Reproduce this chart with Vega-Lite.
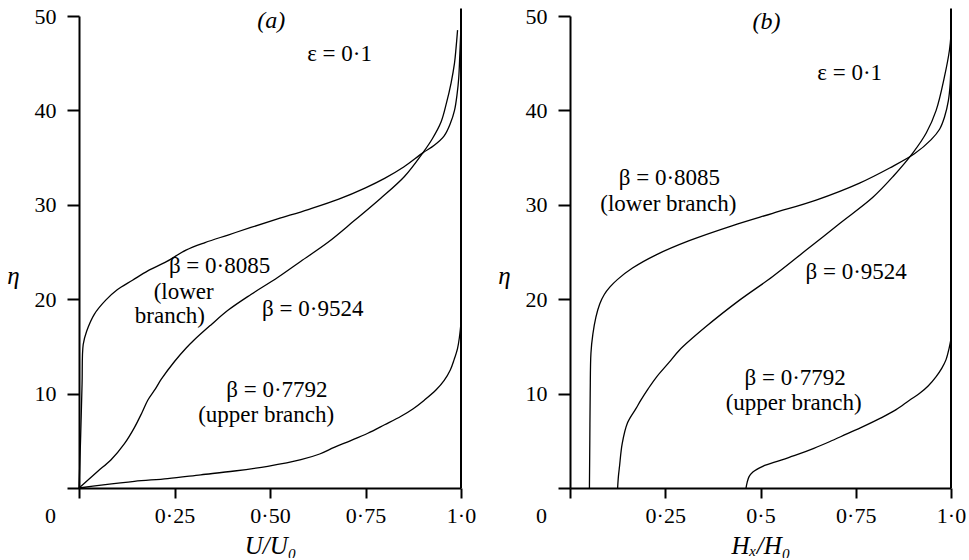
{
  "$schema": "https://vega.github.io/schema/vega-lite/v6.json",
  "background": "white",
  "padding": {"left": 6, "top": 5, "right": 0, "bottom": 0},
  "spacing": 21,
  "config": {
    "view": {"stroke": null},
    "font": "Liberation Serif",
    "axis": {
      "grid": false,
      "domainColor": "black",
      "domainWidth": 2,
      "tickColor": "black",
      "tickWidth": 2,
      "labelColor": "black",
      "titleColor": "black",
      "labelFont": "Liberation Serif",
      "titleFont": "Liberation Serif",
      "labelFontSize": 22,
      "titleFontSize": 25,
      "titleFontWeight": "normal",
      "titleFontStyle": "italic",
      "labelFlush": false,
      "labelOverlap": false,
      "labelBound": false
    }
  },
  "datasets": {
    "curvesA": [
      {"beta": "0.8085", "x": 0, "y": 0}, {"beta": "0.8085", "x": 0.004, "y": 5}, {"beta": "0.8085", "x": 0.008, "y": 11}, {"beta": "0.8085", "x": 0.011, "y": 15.2}, {"beta": "0.8085", "x": 0.02, "y": 16.6}, {"beta": "0.8085", "x": 0.04, "y": 18.4}, {"beta": "0.8085", "x": 0.07, "y": 19.9}, {"beta": "0.8085", "x": 0.1, "y": 21.0}, {"beta": "0.8085", "x": 0.14, "y": 22.0}, {"beta": "0.8085", "x": 0.18, "y": 23.0}, {"beta": "0.8085", "x": 0.23, "y": 24.0}, {"beta": "0.8085", "x": 0.28, "y": 25.2}, {"beta": "0.8085", "x": 0.33, "y": 26.0}, {"beta": "0.8085", "x": 0.39, "y": 26.8}, {"beta": "0.8085", "x": 0.45, "y": 27.6}, {"beta": "0.8085", "x": 0.52, "y": 28.5}, {"beta": "0.8085", "x": 0.6, "y": 29.5}, {"beta": "0.8085", "x": 0.68, "y": 30.6}, {"beta": "0.8085", "x": 0.75, "y": 31.8}, {"beta": "0.8085", "x": 0.8, "y": 32.8}, {"beta": "0.8085", "x": 0.85, "y": 34.0}, {"beta": "0.8085", "x": 0.9, "y": 35.5}, {"beta": "0.8085", "x": 0.93, "y": 36.3}, {"beta": "0.8085", "x": 0.956, "y": 37.3}, {"beta": "0.8085", "x": 0.972, "y": 38.6}, {"beta": "0.8085", "x": 0.983, "y": 40.0}, {"beta": "0.8085", "x": 0.99, "y": 41.8}, {"beta": "0.8085", "x": 0.994, "y": 43.4}, {"beta": "0.8085", "x": 0.997, "y": 46}, {"beta": "0.8085", "x": 1.0, "y": 49},
      {"beta": "0.9524", "x": 0, "y": 0}, {"beta": "0.9524", "x": 0.025, "y": 0.9}, {"beta": "0.9524", "x": 0.05, "y": 1.8}, {"beta": "0.9524", "x": 0.084, "y": 3.0}, {"beta": "0.9524", "x": 0.119, "y": 4.7}, {"beta": "0.9524", "x": 0.145, "y": 6.4}, {"beta": "0.9524", "x": 0.165, "y": 8.0}, {"beta": "0.9524", "x": 0.18, "y": 9.3}, {"beta": "0.9524", "x": 0.2, "y": 10.5}, {"beta": "0.9524", "x": 0.215, "y": 11.5}, {"beta": "0.9524", "x": 0.25, "y": 13.4}, {"beta": "0.9524", "x": 0.28, "y": 14.8}, {"beta": "0.9524", "x": 0.302, "y": 15.7}, {"beta": "0.9524", "x": 0.346, "y": 17.3}, {"beta": "0.9524", "x": 0.389, "y": 18.8}, {"beta": "0.9524", "x": 0.45, "y": 20.5}, {"beta": "0.9524", "x": 0.52, "y": 22.3}, {"beta": "0.9524", "x": 0.58, "y": 24.0}, {"beta": "0.9524", "x": 0.651, "y": 26.0}, {"beta": "0.9524", "x": 0.72, "y": 28.3}, {"beta": "0.9524", "x": 0.79, "y": 30.7}, {"beta": "0.9524", "x": 0.852, "y": 33.0}, {"beta": "0.9524", "x": 0.9, "y": 35.5}, {"beta": "0.9524", "x": 0.925, "y": 37.0}, {"beta": "0.9524", "x": 0.948, "y": 38.8}, {"beta": "0.9524", "x": 0.962, "y": 40.8}, {"beta": "0.9524", "x": 0.974, "y": 42.9}, {"beta": "0.9524", "x": 0.983, "y": 45.0}, {"beta": "0.9524", "x": 0.987, "y": 46.6}, {"beta": "0.9524", "x": 0.991, "y": 48.5},
      {"beta": "0.7792", "x": 0, "y": 0}, {"beta": "0.7792", "x": 0.058, "y": 0.3}, {"beta": "0.7792", "x": 0.145, "y": 0.7}, {"beta": "0.7792", "x": 0.232, "y": 1.0}, {"beta": "0.7792", "x": 0.319, "y": 1.4}, {"beta": "0.7792", "x": 0.407, "y": 1.8}, {"beta": "0.7792", "x": 0.494, "y": 2.3}, {"beta": "0.7792", "x": 0.581, "y": 3.0}, {"beta": "0.7792", "x": 0.63, "y": 3.6}, {"beta": "0.7792", "x": 0.668, "y": 4.3}, {"beta": "0.7792", "x": 0.71, "y": 5.0}, {"beta": "0.7792", "x": 0.756, "y": 5.8}, {"beta": "0.7792", "x": 0.8, "y": 6.7}, {"beta": "0.7792", "x": 0.843, "y": 7.6}, {"beta": "0.7792", "x": 0.875, "y": 8.4}, {"beta": "0.7792", "x": 0.904, "y": 9.3}, {"beta": "0.7792", "x": 0.935, "y": 10.4}, {"beta": "0.7792", "x": 0.956, "y": 11.4}, {"beta": "0.7792", "x": 0.972, "y": 12.5}, {"beta": "0.7792", "x": 0.982, "y": 13.6}, {"beta": "0.7792", "x": 0.991, "y": 14.8}, {"beta": "0.7792", "x": 0.996, "y": 16.0}, {"beta": "0.7792", "x": 1.0, "y": 17.5}
    ],
    "curvesB": [
      {"beta": "0.8085", "x": 0.051, "y": 0}, {"beta": "0.8085", "x": 0.052, "y": 5}, {"beta": "0.8085", "x": 0.053, "y": 10}, {"beta": "0.8085", "x": 0.055, "y": 14.3}, {"beta": "0.8085", "x": 0.06, "y": 16.3}, {"beta": "0.8085", "x": 0.068, "y": 18.1}, {"beta": "0.8085", "x": 0.078, "y": 19.5}, {"beta": "0.8085", "x": 0.09, "y": 20.5}, {"beta": "0.8085", "x": 0.105, "y": 21.3}, {"beta": "0.8085", "x": 0.125, "y": 22.1}, {"beta": "0.8085", "x": 0.164, "y": 23.3}, {"beta": "0.8085", "x": 0.226, "y": 24.7}, {"beta": "0.8085", "x": 0.313, "y": 26.2}, {"beta": "0.8085", "x": 0.427, "y": 27.8}, {"beta": "0.8085", "x": 0.532, "y": 29.1}, {"beta": "0.8085", "x": 0.646, "y": 30.5}, {"beta": "0.8085", "x": 0.76, "y": 32.3}, {"beta": "0.8085", "x": 0.839, "y": 33.9}, {"beta": "0.8085", "x": 0.904, "y": 35.4}, {"beta": "0.8085", "x": 0.948, "y": 36.9}, {"beta": "0.8085", "x": 0.97, "y": 38.0}, {"beta": "0.8085", "x": 0.983, "y": 39.3}, {"beta": "0.8085", "x": 0.993, "y": 41.0}, {"beta": "0.8085", "x": 0.998, "y": 42.9}, {"beta": "0.8085", "x": 1.0, "y": 45.5}, {"beta": "0.8085", "x": 1.0, "y": 48},
      {"beta": "0.9524", "x": 0.125, "y": 0}, {"beta": "0.9524", "x": 0.127, "y": 1.2}, {"beta": "0.9524", "x": 0.13, "y": 2.3}, {"beta": "0.9524", "x": 0.137, "y": 4.7}, {"beta": "0.9524", "x": 0.151, "y": 6.9}, {"beta": "0.9524", "x": 0.173, "y": 8.4}, {"beta": "0.9524", "x": 0.186, "y": 9.3}, {"beta": "0.9524", "x": 0.205, "y": 10.5}, {"beta": "0.9524", "x": 0.226, "y": 11.7}, {"beta": "0.9524", "x": 0.26, "y": 13.3}, {"beta": "0.9524", "x": 0.287, "y": 14.6}, {"beta": "0.9524", "x": 0.357, "y": 17.1}, {"beta": "0.9524", "x": 0.445, "y": 19.9}, {"beta": "0.9524", "x": 0.532, "y": 22.4}, {"beta": "0.9524", "x": 0.62, "y": 25.2}, {"beta": "0.9524", "x": 0.707, "y": 28.0}, {"beta": "0.9524", "x": 0.795, "y": 30.8}, {"beta": "0.9524", "x": 0.848, "y": 33.0}, {"beta": "0.9524", "x": 0.9, "y": 35.5}, {"beta": "0.9524", "x": 0.935, "y": 37.6}, {"beta": "0.9524", "x": 0.961, "y": 40.0}, {"beta": "0.9524", "x": 0.983, "y": 43.6}, {"beta": "0.9524", "x": 0.996, "y": 46.4}, {"beta": "0.9524", "x": 1.0, "y": 48},
      {"beta": "0.7792", "x": 0.462, "y": 0}, {"beta": "0.7792", "x": 0.465, "y": 0.6}, {"beta": "0.7792", "x": 0.47, "y": 1.2}, {"beta": "0.7792", "x": 0.48, "y": 1.7}, {"beta": "0.7792", "x": 0.506, "y": 2.3}, {"beta": "0.7792", "x": 0.55, "y": 2.9}, {"beta": "0.7792", "x": 0.594, "y": 3.5}, {"beta": "0.7792", "x": 0.64, "y": 4.2}, {"beta": "0.7792", "x": 0.681, "y": 4.9}, {"beta": "0.7792", "x": 0.725, "y": 5.7}, {"beta": "0.7792", "x": 0.769, "y": 6.5}, {"beta": "0.7792", "x": 0.815, "y": 7.4}, {"beta": "0.7792", "x": 0.856, "y": 8.3}, {"beta": "0.7792", "x": 0.891, "y": 9.3}, {"beta": "0.7792", "x": 0.917, "y": 10.0}, {"beta": "0.7792", "x": 0.94, "y": 10.8}, {"beta": "0.7792", "x": 0.961, "y": 11.8}, {"beta": "0.7792", "x": 0.976, "y": 12.7}, {"beta": "0.7792", "x": 0.987, "y": 13.6}, {"beta": "0.7792", "x": 0.995, "y": 14.8}, {"beta": "0.7792", "x": 1.0, "y": 15.8}
    ],
    "labelsA": [
      {"t": "(a)", "kind": "panel", "x": 0.503, "y": 49.5},
      {"t": "ε = 0·1", "kind": "param", "x": 0.682, "y": 46.0},
      {"t": "β = 0·8085", "kind": "curve", "x": 0.368, "y": 23.5},
      {"t": "(lower", "kind": "curve", "x": 0.274, "y": 20.8},
      {"t": "branch)", "kind": "curve", "x": 0.238, "y": 18.2},
      {"t": "β = 0·9524", "kind": "curve", "x": 0.612, "y": 19.0},
      {"t": "β = 0·7792", "kind": "curve", "x": 0.518, "y": 10.4},
      {"t": "(upper branch)", "kind": "curve", "x": 0.49, "y": 7.7}
    ],
    "labelsB": [
      {"t": "(b)", "kind": "panel", "x": 0.516, "y": 49.4},
      {"t": "ε = 0·1", "kind": "param", "x": 0.734, "y": 44.0},
      {"t": "β = 0·8085", "kind": "curve", "x": 0.261, "y": 32.8},
      {"t": "(lower branch)", "kind": "curve", "x": 0.258, "y": 30.1},
      {"t": "β = 0·9524", "kind": "curve", "x": 0.751, "y": 22.9},
      {"t": "β = 0·7792", "kind": "curve", "x": 0.591, "y": 11.7},
      {"t": "(upper branch)", "kind": "curve", "x": 0.587, "y": 9.0}
    ]
  },
  "hconcat": [
    {
      "width": 382,
      "height": 472,
      "layer": [
        {
          "data": {"name": "curvesA"},
          "mark": {"type": "line", "color": "black", "strokeWidth": 1.3, "interpolate": "catmull-rom", "clip": false},
          "encoding": {
            "x": {
              "field": "x", "type": "quantitative",
              "scale": {"domain": [0, 1], "nice": false, "zero": false},
              "axis": {
                "values": [0, 0.25, 0.5, 0.75, 1],
                "labelExpr": "datum.value == 0 ? '0' : datum.value == 0.25 ? '0·25' : datum.value == 0.5 ? '0·50' : datum.value == 0.75 ? '0·75' : '1·0'",
                "labelOffset": {"condition": {"test": "datum.value == 0", "value": -29}, "value": 0},
                "tickSize": 10,
                "labelPadding": 7,
                "title": "U/U₀",
                "titleY": 65,
                "titleBaseline": "alphabetic"
              }
            },
            "y": {
              "field": "y", "type": "quantitative",
              "scale": {"domain": [0, 50], "nice": false},
              "axis": {
                "values": [0, 10, 20, 30, 40, 50],
                "labelExpr": "datum.value == 0 ? '' : datum.label",
                "tickSize": 12,
                "labelPadding": 11,
                "title": "η",
                "titleAngle": 0,
                "titleX": -66,
                "titleY": 259,
                "titleAlign": "center",
                "titleBaseline": "middle"
              }
            },
            "detail": {"field": "beta", "type": "nominal"},
            "order": {"field": "y", "type": "quantitative"}
          }
        },
        {
          "data": {"values": [{}]},
          "mark": {"type": "rule", "color": "black", "strokeWidth": 2, "clip": false},
          "encoding": {"x": {"datum": 1}, "y": {"datum": 0}, "y2": {"datum": 50.8}}
        },
        {
          "data": {"name": "labelsA"},
          "transform": [{"filter": "datum.kind != 'panel'"}],
          "mark": {"type": "text", "font": "Liberation Serif", "fontSize": 23, "align": "center", "baseline": "middle", "color": "black"},
          "encoding": {
            "x": {"field": "x", "type": "quantitative"},
            "y": {"field": "y", "type": "quantitative"},
            "text": {"field": "t"}
          }
        },
        {
          "data": {"name": "labelsA"},
          "transform": [{"filter": "datum.kind == 'panel'"}],
          "mark": {"type": "text", "font": "Liberation Serif", "fontSize": 24, "fontStyle": "italic", "align": "center", "baseline": "middle", "color": "black"},
          "encoding": {
            "x": {"field": "x", "type": "quantitative"},
            "y": {"field": "y", "type": "quantitative"},
            "text": {"field": "t"}
          }
        }
      ]
    },
    {
      "width": 381,
      "height": 472,
      "layer": [
        {
          "data": {"name": "curvesB"},
          "mark": {"type": "line", "color": "black", "strokeWidth": 1.3, "interpolate": "catmull-rom", "clip": false},
          "encoding": {
            "x": {
              "field": "x", "type": "quantitative",
              "scale": {"domain": [0, 1], "nice": false, "zero": false},
              "axis": {
                "values": [0, 0.25, 0.5, 0.75, 1],
                "labelExpr": "datum.value == 0 ? '0' : datum.value == 0.25 ? '0·25' : datum.value == 0.5 ? '0·5' : datum.value == 0.75 ? '0·75' : '1·0'",
                "labelOffset": {"condition": {"test": "datum.value == 0", "value": -29}, "value": 0},
                "tickSize": 10,
                "labelPadding": 7,
                "title": "Hₓ/H₀",
                "titleY": 65,
                "titleBaseline": "alphabetic"
              }
            },
            "y": {
              "field": "y", "type": "quantitative",
              "scale": {"domain": [0, 50], "nice": false},
              "axis": {
                "values": [0, 10, 20, 30, 40, 50],
                "labelExpr": "datum.value == 0 ? '' : datum.label",
                "tickSize": 12,
                "labelPadding": 11,
                "title": "η",
                "titleAngle": 0,
                "titleX": -66,
                "titleY": 259,
                "titleAlign": "center",
                "titleBaseline": "middle"
              }
            },
            "detail": {"field": "beta", "type": "nominal"},
            "order": {"field": "y", "type": "quantitative"}
          }
        },
        {
          "data": {"values": [{}]},
          "mark": {"type": "rule", "color": "black", "strokeWidth": 2, "clip": false},
          "encoding": {"x": {"datum": 1}, "y": {"datum": 0}, "y2": {"datum": 50.8}}
        },
        {
          "data": {"name": "labelsB"},
          "transform": [{"filter": "datum.kind != 'panel'"}],
          "mark": {"type": "text", "font": "Liberation Serif", "fontSize": 23, "align": "center", "baseline": "middle", "color": "black"},
          "encoding": {
            "x": {"field": "x", "type": "quantitative"},
            "y": {"field": "y", "type": "quantitative"},
            "text": {"field": "t"}
          }
        },
        {
          "data": {"name": "labelsB"},
          "transform": [{"filter": "datum.kind == 'panel'"}],
          "mark": {"type": "text", "font": "Liberation Serif", "fontSize": 24, "fontStyle": "italic", "align": "center", "baseline": "middle", "color": "black"},
          "encoding": {
            "x": {"field": "x", "type": "quantitative"},
            "y": {"field": "y", "type": "quantitative"},
            "text": {"field": "t"}
          }
        }
      ]
    }
  ]
}
